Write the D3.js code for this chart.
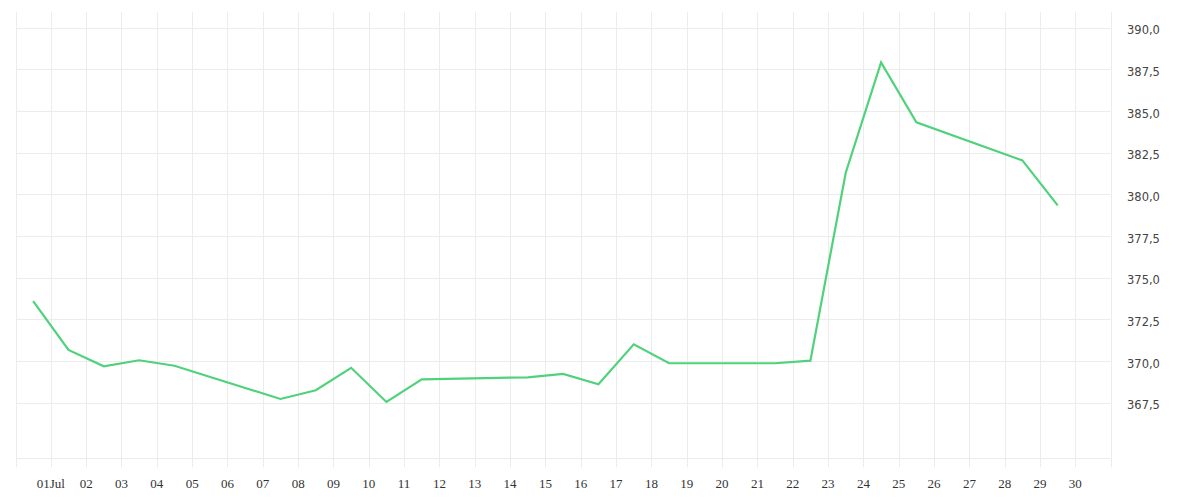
<!DOCTYPE html>
<html>
<head>
<meta charset="utf-8">
<script src="https://cdn.jsdelivr.net/npm/d3@7"></script>
<style>
  html, body { margin: 0; padding: 0; background: #ffffff; }
  svg { display: block; }
</style>
</head>
<body>
<svg id="chart" width="1200" height="500"></svg>
<script>
// ---- data ----
const times = [
  "2024-06-30 12:00", "2024-07-01 12:00", "2024-07-02 12:00", "2024-07-03 12:00", "2024-07-04 12:00",
  "2024-07-07 12:00", "2024-07-08 12:00", "2024-07-09 12:00", "2024-07-10 12:00", "2024-07-11 12:00",
  "2024-07-14 12:00", "2024-07-15 12:00", "2024-07-16 12:00", "2024-07-17 12:00", "2024-07-18 12:00",
  "2024-07-21 12:00", "2024-07-22 12:00", "2024-07-23 12:00", "2024-07-24 12:00", "2024-07-25 12:00",
  "2024-07-28 12:00", "2024-07-29 12:00"
];
const values = [
  373.6, 370.67, 369.69, 370.05, 369.72,
  367.73, 368.25, 369.6, 367.55, 368.91,
  369.03, 369.23, 368.61, 371.01, 369.87,
  369.87, 370.03, 381.30, 387.92, 384.32,
  382.04, 379.34
];
const yTickValues = [367.5, 370, 372.5, 375, 377.5, 380, 382.5, 385, 387.5, 390];
const xDomain = ["2024-06-30 00:00", "2024-07-31 00:00"];
const yDomain = [364.17, 390.94];

// ---- layout ----
const plotLeft = 15.5, plotRight = 1110.7, plotTop = 12, plotBottom = 458.3;
const parse = d3.timeParse("%Y-%m-%d %H:%M");
const svg = d3.select("#chart");

const x = d3.scaleTime().domain(xDomain.map(parse)).range([plotLeft, plotRight]);
const y = d3.scaleLinear().domain(yDomain).range([plotBottom, plotTop]);

const gridColor = "#ececec";
const days = d3.timeDay.range(parse(xDomain[0]), d3.timeDay.offset(parse(xDomain[1]), 1));

// vertical grid lines (one per day)
svg.append("g").selectAll("line").data(days).join("line")
  .attr("x1", d => Math.round(x(d)) + 0.5).attr("x2", d => Math.round(x(d)) + 0.5)
  .attr("y1", plotTop).attr("y2", plotBottom + 9)
  .attr("stroke", gridColor).attr("stroke-width", 1);

// horizontal grid lines
svg.append("g").selectAll("line").data(yTickValues).join("line")
  .attr("x1", plotLeft).attr("x2", plotRight)
  .attr("y1", d => Math.round(y(d)) + 0.5).attr("y2", d => Math.round(y(d)) + 0.5)
  .attr("stroke", gridColor).attr("stroke-width", 1);

// bottom border
svg.append("line")
  .attr("x1", plotLeft).attr("x2", plotRight)
  .attr("y1", Math.round(plotBottom) + 0.5).attr("y2", Math.round(plotBottom) + 0.5)
  .attr("stroke", gridColor).attr("stroke-width", 1);

// x axis labels
const labelDays = days.filter(d => d > parse(xDomain[0]) && d < parse(xDomain[1]));
const fmtDay = d3.timeFormat("%d");
svg.append("g").selectAll("text").data(labelDays).join("text")
  .attr("x", d => x(d))
  .attr("y", 488)
  .attr("text-anchor", "middle")
  .attr("font-family", "'Liberation Serif', 'DejaVu Serif', serif")
  .attr("font-size", 13)
  .attr("fill", "#333")
  .text(d => d.getDate() === 1 ? fmtDay(d) + d3.timeFormat("%b")(d) : fmtDay(d));

// y axis labels
const fmtY = v => d3.format(".1f")(v).replace(".", ",");
svg.append("g").selectAll("text").data(yTickValues).join("text")
  .attr("x", 1127)
  .attr("y", d => y(d) + 6.5)
  .attr("text-anchor", "start")
  .attr("font-family", "'DejaVu Sans', sans-serif")
  .attr("font-size", 11.5)
  .attr("fill", "#444")
  .text(fmtY);

// line
const pts = times.map((t, i) => ({ t: parse(t), v: values[i] }));
svg.append("path")
  .datum(pts)
  .attr("fill", "none")
  .attr("stroke", "#4fd27b")
  .attr("stroke-width", 2.2)
  .attr("stroke-linejoin", "miter")
  .attr("d", d3.line().x(d => x(d.t)).y(d => y(d.v)));
</script>
</body>
</html>
